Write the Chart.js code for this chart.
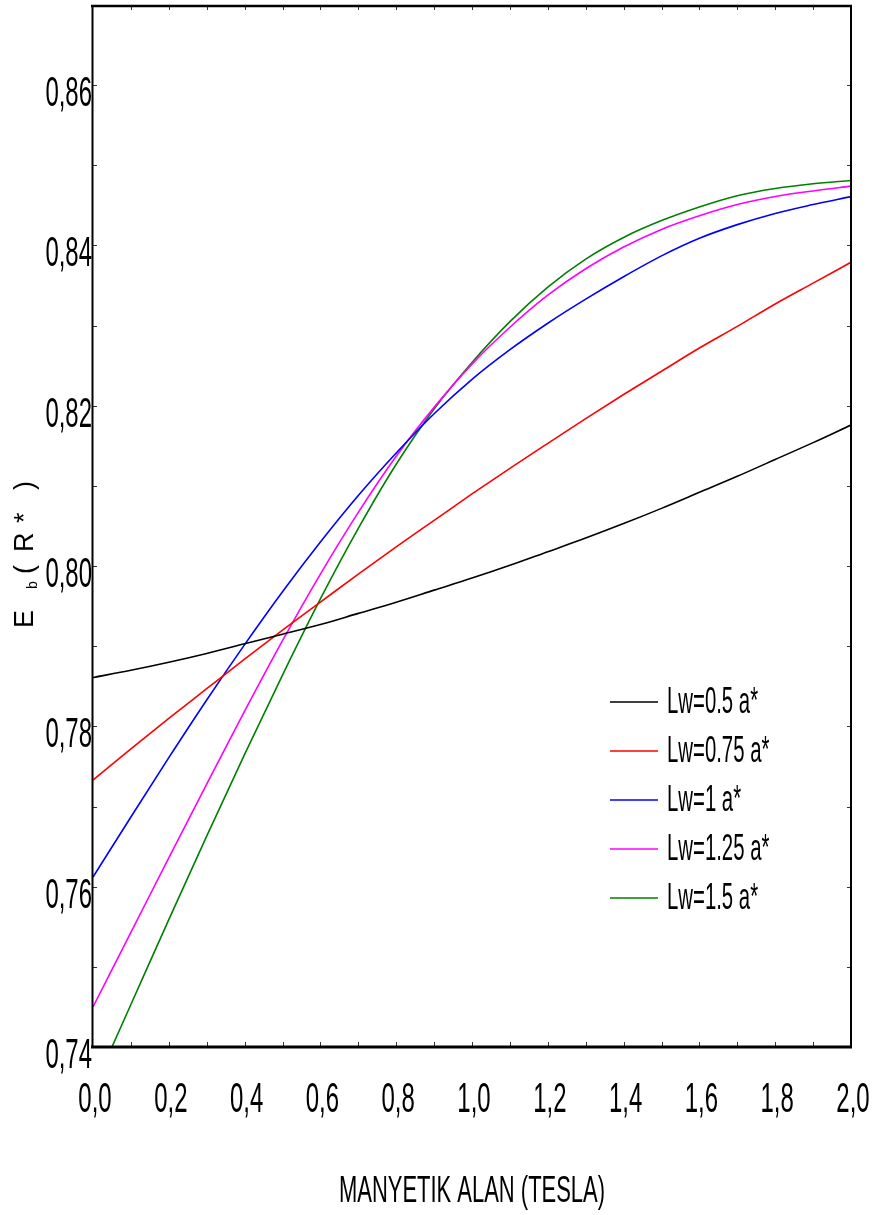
<!DOCTYPE html>
<html>
<head>
<meta charset="utf-8">
<title>Eb - Manyetik Alan</title>
<script src="https://cdn.jsdelivr.net/npm/chart.js@4/dist/chart.umd.min.js"></script>
<style>
    html, body { margin: 0; padding: 0; background: #fff; }
    canvas { display: block; }
</style>
</head>
<body>
<canvas id="ebChart" width="876" height="1215"></canvas>
<script>
// Manyetik alan (Tesla)
const alanTesla = [0.0, 0.1, 0.2, 0.3, 0.4, 0.5, 0.6, 0.7, 0.8, 0.9, 1.0,
                   1.1, 1.2, 1.3, 1.4, 1.5, 1.6, 1.7, 1.8, 1.9, 2.0];

// Bağlanma enerjisi Eb (R*) - her kuyu genişliği için
const lw050 = [0.7861, 0.7870, 0.7880, 0.7891, 0.7903, 0.7915, 0.7927, 0.7941, 0.7955, 0.7970, 0.7985,
               0.8001, 0.8018, 0.8035, 0.8053, 0.8072, 0.8092, 0.8112, 0.8133, 0.8154, 0.8176];
const lw075 = [0.7733, 0.7772, 0.7810, 0.7847, 0.7884, 0.7920, 0.7955, 0.7990, 0.8024, 0.8057, 0.8090,
               0.8122, 0.8153, 0.8184, 0.8214, 0.8243, 0.8272, 0.8299, 0.8327, 0.8353, 0.8379];
const lw100 = [0.7612, 0.7687, 0.7761, 0.7833, 0.7902, 0.7968, 0.8030, 0.8088, 0.8141, 0.8190, 0.8233,
               0.8270, 0.8303, 0.8333, 0.8361, 0.8387, 0.8409, 0.8426, 0.8440, 0.8451, 0.8461];
const lw125 = [0.7450, 0.7543, 0.7636, 0.7728, 0.7819, 0.7907, 0.7990, 0.8067, 0.8137, 0.8198, 0.8252,
               0.8298, 0.8338, 0.8371, 0.8398, 0.8420, 0.8437, 0.8451, 0.8461, 0.8468, 0.8474];
const lw150 = [0.7347, 0.7453, 0.7559, 0.7663, 0.7765, 0.7864, 0.7959, 0.8047, 0.8127, 0.8196, 0.8254,
               0.8305, 0.8348, 0.8383, 0.8410, 0.8431, 0.8448, 0.8462, 0.8471, 0.8477, 0.8481];

const seriesLabels = ['Lw=0.5 a*', 'Lw=0.75 a*', 'Lw=1 a*', 'Lw=1.25 a*', 'Lw=1.5 a*'];
const seriesValues = [lw050, lw075, lw100, lw125, lw150];
const seriesColors = ['#000000', '#ff0000', '#0000ff', '#ff00ff', '#008000'];

// Eksen etiketleri (virgüllü ondalık)
const xTickValues = [0.0, 0.2, 0.4, 0.6, 0.8, 1.0, 1.2, 1.4, 1.6, 1.8, 2.0];
const xTickLabels = ['0,0', '0,2', '0,4', '0,6', '0,8', '1,0', '1,2', '1,4', '1,6', '1,8', '2,0'];
const yTickValues = [0.74, 0.76, 0.78, 0.80, 0.82, 0.84, 0.86];
const yTickLabels = ['0,74', '0,76', '0,78', '0,80', '0,82', '0,84', '0,86'];

const FONT = '"Liberation Sans", Arial, sans-serif';

// Dar (sıkıştırılmış) yazı çizer
function narrowText(ctx, text, x, y, size, align, squeeze) {
    ctx.save();
    ctx.font = size + 'px ' + FONT;
    const w = ctx.measureText(text).width * squeeze;
    let left = x;
    if (align === 'right') left = x - w;
    else if (align === 'center') left = x - w / 2;
    ctx.translate(left, y);
    ctx.scale(squeeze, 1);
    ctx.textAlign = 'left';
    ctx.textBaseline = 'alphabetic';
    ctx.fillStyle = '#000';
    ctx.fillText(text, 0, 0);
    ctx.restore();
}

// Çerçeve, tik işaretleri, etiketler, başlıklar ve açıklama
const framePlugin = {
    id: 'frame',
    afterDraw(chart) {
        const { ctx, chartArea: a, scales: { x, y } } = chart;
        ctx.save();

        // küçük tikler
        ctx.strokeStyle = '#333';
        ctx.lineWidth = 1;
        ctx.beginPath();
        for (let i = 1; i < 20; i++) {
            const px = Math.round(x.getPixelForValue(i / 10)) + 0.5;
            ctx.moveTo(px, a.bottom);
            ctx.lineTo(px, a.bottom - 5);
            ctx.moveTo(px, a.top);
            ctx.lineTo(px, a.top + 5);
        }
        for (let i = 75; i <= 86; i++) {
            const py = Math.round(y.getPixelForValue(i / 100)) + 0.5;
            ctx.moveTo(a.left, py);
            ctx.lineTo(a.left + 4, py);
            ctx.moveTo(a.right, py);
            ctx.lineTo(a.right - 4, py);
        }
        ctx.stroke();

        // çerçeve
        ctx.strokeStyle = '#000';
        ctx.lineWidth = 2.5;
        ctx.beginPath();
        ctx.moveTo(a.left - 2, a.top + 1);
        ctx.lineTo(a.right + 1, a.top + 1);
        ctx.stroke();
        ctx.lineWidth = 3;
        ctx.beginPath();
        ctx.moveTo(a.left - 2, a.bottom);
        ctx.lineTo(a.right + 1, a.bottom);
        ctx.stroke();
        ctx.lineWidth = 2;
        ctx.beginPath();
        ctx.moveTo(a.left - 0.5, a.top);
        ctx.lineTo(a.left - 0.5, a.bottom);
        ctx.moveTo(a.right, a.top);
        ctx.lineTo(a.right, a.bottom);
        ctx.stroke();

        // tik etiketleri
        yTickValues.forEach((v, i) => {
            narrowText(ctx, yTickLabels[i], a.left - 1, y.getPixelForValue(v) + 21, 42, 'right', 0.57);
        });
        xTickValues.forEach((v, i) => {
            narrowText(ctx, xTickLabels[i], x.getPixelForValue(v) + 2, a.bottom + 65, 42, 'center', 0.57);
        });

        // x ekseni başlığı
        narrowText(ctx, 'MANYETIK ALAN (TESLA)', 472, 1202, 36, 'center', 0.61);

        // y ekseni başlığı: E_b ( R* )
        ctx.save();
        ctx.translate(33, 628);
        ctx.rotate(-Math.PI / 2);
        ctx.fillStyle = '#000';
        ctx.textBaseline = 'alphabetic';
        ctx.font = '27px ' + FONT;
        ctx.fillText('E', 0, 0);
        ctx.fillText('(', 54, 0);
        ctx.fillText('R', 76, 0);
        ctx.fillText('*', 105, 0);
        ctx.fillText(')', 138, 0);
        ctx.font = '14px ' + FONT;
        ctx.fillText('b', 39, 4);
        ctx.restore();

        // açıklama
        chart.data.datasets.forEach((ds, i) => {
            const ly = 702 + 49 * i;
            ctx.strokeStyle = ds.borderColor;
            ctx.lineWidth = 1.5;
            ctx.beginPath();
            ctx.moveTo(610, ly);
            ctx.lineTo(658, ly);
            ctx.stroke();
            narrowText(ctx, ds.label, 667, ly + 11, 37, 'left', 0.55);
        });

        ctx.restore();
    }
};

new Chart(document.getElementById('ebChart').getContext('2d'), {
    type: 'line',
    data: {
        datasets: seriesValues.map((vals, i) => ({
            label: seriesLabels[i],
            data: alanTesla.map((t, k) => ({ x: t, y: vals[k] })),
            borderColor: seriesColors[i],
            borderWidth: 1.6,
            pointRadius: 0,
            fill: false,
            cubicInterpolationMode: 'monotone'
        }))
    },
    options: {
        responsive: false,
        animation: false,
        layout: { padding: { left: 93, right: 25, top: 5, bottom: 168 } },
        plugins: {
            legend: { display: false },
            tooltip: { enabled: false }
        },
        scales: {
            x: { type: 'linear', min: 0, max: 2, display: false },
            y: { type: 'linear', min: 0.74, max: 0.87, display: false }
        }
    },
    plugins: [framePlugin]
});
</script>
</body>
</html>
